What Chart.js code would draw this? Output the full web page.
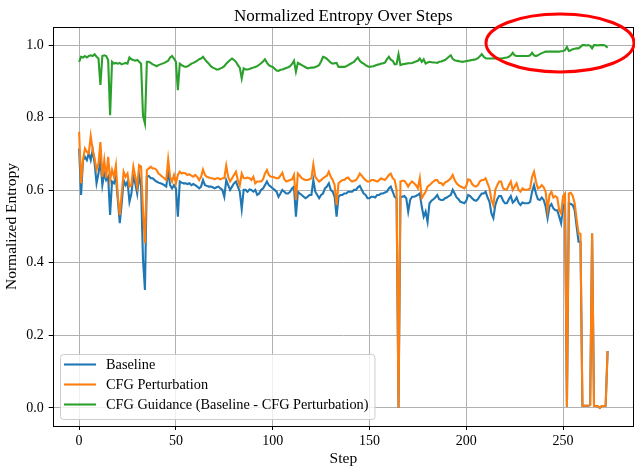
<!DOCTYPE html>
<html>
<head>
    <title>Normalized Entropy Over Steps</title>
    <script src="https://cdn.jsdelivr.net/npm/chart.js@4.4.0/dist/chart.umd.min.js"></script>
    <style>
        body { margin: 0; background: #fff; }
        #wrap { width: 635px; height: 468px; }
    </style>
</head>
<body>
<div id="wrap">
    <canvas id="myChart" width="635" height="468"></canvas>
</div>
<script>
    // values, one per step (0..273)
    var baseline = [
        0.715,0.587,0.683,0.692,0.683,0.702,0.683,0.711,0.674,0.619,
        0.646,0.683,0.614,0.646,0.628,0.637,0.532,0.624,0.619,0.637,
        0.573,0.509,0.564,0.628,0.614,0.624,0.568,0.591,0.637,0.619,
        0.591,0.642,0.610,0.408,0.325,0.637,0.639,0.633,0.633,0.628,
        0.624,0.621,0.619,0.617,0.614,0.610,0.651,0.614,0.605,0.614,
        0.605,0.527,0.624,0.621,0.619,0.619,0.617,0.619,0.614,0.617,
        0.614,0.610,0.605,0.610,0.628,0.614,0.612,0.610,0.610,0.608,
        0.605,0.608,0.610,0.605,0.601,0.582,0.628,0.614,0.601,0.610,
        0.619,0.624,0.610,0.596,0.548,0.601,0.601,0.596,0.602,0.601,
        0.596,0.601,0.587,0.591,0.601,0.605,0.614,0.624,0.614,0.610,
        0.605,0.601,0.596,0.582,0.591,0.601,0.596,0.591,0.591,0.596,
        0.605,0.610,0.527,0.596,0.591,0.587,0.582,0.578,0.582,0.587,
        0.587,0.628,0.596,0.587,0.578,0.587,0.591,0.605,0.610,0.619,
        0.601,0.596,0.582,0.527,0.582,0.587,0.587,0.591,0.591,0.596,
        0.596,0.596,0.601,0.601,0.608,0.612,0.601,0.591,0.587,0.578,
        0.578,0.582,0.582,0.580,0.587,0.587,0.591,0.591,0.594,0.596,
        0.605,0.610,0.596,0.582,0.578,0.000,0.582,0.582,0.584,0.578,
        0.541,0.573,0.582,0.582,0.584,0.587,0.591,0.555,0.527,0.541,
        0.513,0.564,0.571,0.575,0.580,0.587,0.575,0.573,0.573,0.578,
        0.580,0.584,0.587,0.601,0.591,0.580,0.575,0.568,0.566,0.564,
        0.571,0.587,0.584,0.578,0.573,0.571,0.575,0.584,0.591,0.591,
        0.596,0.580,0.568,0.536,0.523,0.559,0.575,0.584,0.584,0.571,
        0.564,0.564,0.575,0.584,0.566,0.571,0.580,0.566,0.559,0.566,
        0.564,0.564,0.564,0.568,0.596,0.614,0.591,0.575,0.573,0.580,
        0.573,0.555,0.523,0.555,0.562,0.550,0.545,0.545,0.527,0.509,
        0.555,0.564,0.003,0.564,0.562,0.559,0.545,0.500,0.458,0.458,
        0.006,0.006,0.006,0.006,0.008,0.481,0.005,0.005,0.004,0.000,
        0.005,0.005,0.006,0.157
    ];
    var cfgPerturbation = [
        0.761,0.619,0.683,0.715,0.706,0.702,0.749,0.711,0.688,0.656,
        0.674,0.733,0.637,0.683,0.633,0.692,0.628,0.656,0.637,0.669,
        0.582,0.531,0.591,0.651,0.637,0.646,0.610,0.614,0.665,0.637,
        0.610,0.669,0.665,0.545,0.454,0.656,0.660,0.665,0.660,0.660,
        0.656,0.646,0.642,0.637,0.633,0.628,0.685,0.637,0.624,0.642,
        0.619,0.642,0.651,0.646,0.648,0.646,0.642,0.644,0.640,0.637,
        0.642,0.637,0.628,0.637,0.657,0.642,0.637,0.635,0.633,0.633,
        0.630,0.633,0.633,0.630,0.633,0.633,0.668,0.637,0.624,0.633,
        0.642,0.651,0.628,0.614,0.646,0.633,0.633,0.635,0.633,0.628,
        0.637,0.619,0.624,0.624,0.624,0.630,0.646,0.656,0.642,0.637,
        0.637,0.635,0.633,0.633,0.640,0.648,0.630,0.624,0.626,0.628,
        0.630,0.642,0.573,0.646,0.640,0.633,0.630,0.628,0.628,0.630,
        0.633,0.671,0.637,0.630,0.624,0.628,0.633,0.637,0.640,0.651,
        0.637,0.628,0.614,0.559,0.619,0.624,0.628,0.628,0.633,0.635,
        0.628,0.624,0.626,0.628,0.635,0.646,0.640,0.633,0.628,0.624,
        0.624,0.628,0.628,0.626,0.624,0.628,0.633,0.630,0.628,0.635,
        0.642,0.646,0.633,0.628,0.601,0.000,0.624,0.626,0.626,0.619,
        0.610,0.619,0.624,0.619,0.614,0.605,0.633,0.578,0.587,0.596,
        0.610,0.614,0.619,0.624,0.628,0.628,0.620,0.620,0.614,0.621,
        0.624,0.628,0.633,0.642,0.628,0.619,0.614,0.610,0.608,0.605,
        0.612,0.630,0.628,0.617,0.612,0.610,0.614,0.624,0.628,0.628,
        0.633,0.619,0.605,0.573,0.559,0.601,0.614,0.624,0.624,0.605,
        0.602,0.602,0.614,0.624,0.601,0.610,0.619,0.601,0.596,0.605,
        0.602,0.601,0.602,0.605,0.637,0.651,0.624,0.605,0.608,0.614,
        0.608,0.596,0.545,0.587,0.596,0.580,0.584,0.580,0.545,0.536,
        0.584,0.591,0.003,0.591,0.593,0.584,0.564,0.520,0.481,0.480,
        0.006,0.006,0.006,0.006,0.008,0.481,0.005,0.005,0.004,0.000,
        0.005,0.005,0.006,0.157
    ];
    var cfgGuidance = [
        0.954,0.968,0.966,0.970,0.966,0.970,0.972,0.970,0.975,0.968,
        0.963,0.890,0.970,0.972,0.970,0.959,0.807,0.954,0.949,0.951,
        0.949,0.951,0.947,0.949,0.951,0.949,0.966,0.961,0.959,0.957,
        0.959,0.954,0.949,0.805,0.784,0.954,0.954,0.951,0.947,0.945,
        0.942,0.945,0.947,0.949,0.951,0.954,0.957,0.966,0.970,0.963,
        0.954,0.876,0.949,0.945,0.942,0.940,0.942,0.945,0.949,0.951,
        0.954,0.957,0.961,0.963,0.968,0.961,0.954,0.949,0.942,0.938,
        0.936,0.933,0.933,0.936,0.938,0.942,0.949,0.954,0.959,0.963,
        0.959,0.954,0.945,0.938,0.908,0.936,0.933,0.933,0.934,0.936,
        0.938,0.940,0.942,0.946,0.950,0.955,0.961,0.952,0.945,0.942,
        0.940,0.935,0.930,0.929,0.932,0.933,0.935,0.937,0.939,0.942,
        0.948,0.957,0.927,0.951,0.948,0.945,0.942,0.939,0.936,0.937,
        0.938,0.938,0.940,0.942,0.945,0.955,0.968,0.966,0.962,0.957,
        0.952,0.949,0.950,0.951,0.940,0.940,0.940,0.940,0.942,0.945,
        0.948,0.951,0.954,0.960,0.966,0.957,0.952,0.949,0.945,0.942,
        0.940,0.941,0.942,0.944,0.946,0.947,0.949,0.950,0.952,0.961,
        0.968,0.960,0.957,0.947,0.948,0.975,0.945,0.947,0.948,0.949,
        0.950,0.950,0.951,0.953,0.955,0.957,0.963,0.954,0.961,0.949,
        0.952,0.954,0.953,0.952,0.952,0.951,0.954,0.955,0.957,0.959,
        0.963,0.968,0.972,0.962,0.958,0.957,0.956,0.955,0.954,0.955,
        0.956,0.957,0.958,0.959,0.960,0.961,0.964,0.969,0.975,0.968,
        0.964,0.963,0.963,0.963,0.963,0.963,0.963,0.963,0.963,0.964,
        0.965,0.966,0.968,0.972,0.979,0.972,0.970,0.970,0.970,0.970,
        0.970,0.970,0.970,0.972,0.979,0.972,0.970,0.972,0.975,0.978,
        0.980,0.982,0.982,0.982,0.982,0.982,0.982,0.982,0.982,0.983,
        0.984,0.986,0.995,0.984,0.986,0.989,0.990,0.991,0.991,0.995,
        1.000,1.000,0.999,1.000,0.998,0.991,1.000,1.000,0.999,1.000,
        1.000,1.000,0.998,0.993
    ];
    var xTicks = [0, 50, 100, 150, 200, 250];
    var yTicks = [0.0, 0.2, 0.4, 0.6, 0.8, 1.0];
    var seriesNames = ['Baseline', 'CFG Perturbation', 'CFG Guidance (Baseline - CFG Perturbation)'];
    var seriesColors = ['#1f77b4', '#ff7f0e', '#2ca02c'];

    var serif = 'Liberation Serif';

    function toPoints(arr) {
        return arr.map(function (v, i) { return { x: i, y: v }; });
    }

    // later series drawn over earlier ones, as in matplotlib
    var datasets = [baseline, cfgPerturbation, cfgGuidance].map(function (arr, i) {
        return {
            label: seriesNames[i],
            data: toPoints(arr),
            borderColor: seriesColors[i],
            borderWidth: 2.1,
            pointRadius: 0,
            tension: 0,
            fill: false,
            order: 3 - i
        };
    });

    // black frame round the plot area, like the matplotlib spines
    var framePlugin = {
        id: 'frame',
        afterDatasetsDraw: function (chart) {
            var a = chart.chartArea, ctx = chart.ctx;
            ctx.save();
            ctx.strokeStyle = '#000';
            ctx.lineWidth = 1;
            ctx.strokeRect(Math.round(a.left) + 0.5, Math.round(a.top) + 0.5,
                Math.round(a.right - a.left) - 1, Math.round(a.bottom - a.top));
            ctx.restore();
        }
    };

    // title, legend box and the red ellipse drawn on top
    var overlayPlugin = {
        id: 'overlay',
        afterDraw: function (chart) {
            var ctx = chart.ctx, a = chart.chartArea;
            ctx.save();

            ctx.fillStyle = '#000';
            ctx.font = '17px "' + serif + '"';
            ctx.textAlign = 'center';
            ctx.textBaseline = 'alphabetic';
            ctx.fillText('Normalized Entropy Over Steps', (a.left + a.right) / 2, 21);

            ctx.font = '14.3px "' + serif + '"';
            var maxW = 0;
            seriesNames.forEach(function (n) { maxW = Math.max(maxW, ctx.measureText(n).width); });
            var bx = 60, by = 354, bw = 106 + maxW + 6 - bx, bh = 65;
            ctx.beginPath();
            ctx.roundRect(bx + 0.5, by + 0.5, bw, bh, 3);
            ctx.fillStyle = 'rgba(255,255,255,0.8)';
            ctx.fill();
            ctx.strokeStyle = '#cccccc';
            ctx.lineWidth = 1;
            ctx.stroke();

            ctx.textAlign = 'left';
            ctx.textBaseline = 'middle';
            seriesNames.forEach(function (n, i) {
                var yy = 364.5 + i * 20;
                ctx.beginPath();
                ctx.moveTo(64, yy);
                ctx.lineTo(96, yy);
                ctx.strokeStyle = seriesColors[i];
                ctx.lineWidth = 2.1;
                ctx.stroke();
                ctx.fillStyle = '#000';
                ctx.fillText(n, 106, yy + 1);
            });

            ctx.beginPath();
            ctx.ellipse(560, 43, 74, 29, 0, 0, Math.PI * 2);
            ctx.strokeStyle = '#ff0000';
            ctx.lineWidth = 3;
            ctx.stroke();

            ctx.restore();
        }
    };

    var ctx = document.getElementById('myChart').getContext('2d');
    var myChart = new Chart(ctx, {
        type: 'line',
        data: { datasets: datasets },
        options: {
            responsive: false,
            animation: false,
            layout: { padding: { top: 27, right: 1, left: 0, bottom: 0 } },
            plugins: {
                legend: { display: false },
                title: { display: false },
                tooltip: { enabled: false }
            },
            scales: {
                x: {
                    type: 'linear',
                    min: -13.65,
                    max: 286.65,
                    afterBuildTicks: function (s) { s.ticks = xTicks.map(function (v) { return { value: v }; }); },
                    afterFit: function (s) { s.height = 42; },
                    grid: { color: '#b0b0b0', tickColor: '#000', tickLength: 4, lineWidth: 1 },
                    border: { display: false },
                    ticks: {
                        font: { family: serif, size: 14 },
                        color: '#000',
                        padding: 3,
                        maxRotation: 0
                    },
                    title: {
                        display: true,
                        text: 'Step',
                        font: { family: serif, size: 15.5 },
                        color: '#000',
                        padding: { top: 0, bottom: 0 }
                    }
                },
                y: {
                    min: -0.05,
                    max: 1.05,
                    afterBuildTicks: function (s) { s.ticks = yTicks.map(function (v) { return { value: v }; }); },
                    afterFit: function (s) { s.width = 52.7; },
                    grid: { color: '#b0b0b0', tickColor: '#000', tickLength: 4, lineWidth: 1 },
                    border: { display: false },
                    ticks: {
                        font: { family: serif, size: 14 },
                        color: '#000',
                        padding: 5,
                        callback: function (v) { return Number(v).toFixed(1); }
                    },
                    title: {
                        display: true,
                        text: 'Normalized Entropy',
                        font: { family: serif, size: 15.5 },
                        color: '#000',
                        padding: { top: 3, bottom: 0 }
                    }
                }
            }
        },
        plugins: [framePlugin, overlayPlugin]
    });
</script>
</body>
</html>
